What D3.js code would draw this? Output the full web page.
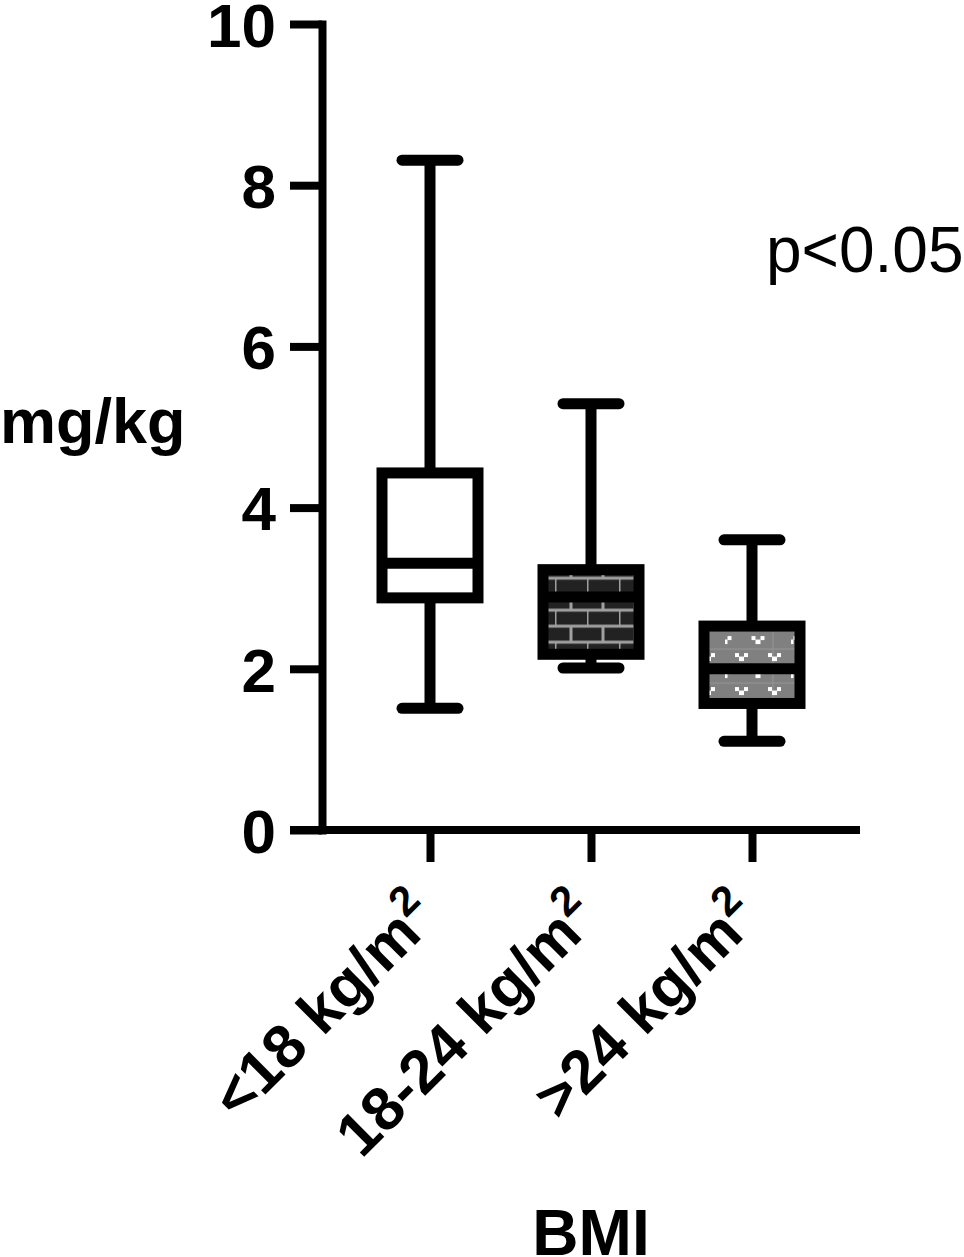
<!DOCTYPE html>
<html>
<head>
<meta charset="utf-8">
<script src="https://cdn.jsdelivr.net/npm/d3@7"></script>
<style>
  html, body { margin: 0; padding: 0; background: #fff; }
  svg { display: block; font-family: "Liberation Sans", Arial, Helvetica, sans-serif; }
</style>
</head>
<body>
<div id="chart"></div>
<script>
// BMI groups vs mg/kg box plot
const categories = ["<18", "18-24", ">24"];
const categoryLabels = ["<18 kg/m", "18-24 kg/m", ">24 kg/m"];
const whiskerHigh = [8.31, 5.29, 3.6];
const q3 = [4.43, 3.23, 2.53];
const median = [3.31, 2.89, 2.0];
const q1 = [2.88, 2.18, 1.57];
const whiskerLow = [1.51, 2.01, 1.1];
const fills = ["#ffffff", "url(#brick)", "url(#dots)"];
const yTicks = [0, 2, 4, 6, 8, 10];

const W = 964;
const H = 1257;
const AXIS_X = 322;
const AXIS_Y = 830;
const TOP = 24;
const STROKE = 11;
const BOX_HALF = 48;
const CAP_HALF = 28;

const boxes = categories.map((c, i) => ({
  key: c,
  label: categoryLabels[i],
  hi: whiskerHigh[i],
  q3: q3[i],
  med: median[i],
  q1: q1[i],
  lo: whiskerLow[i],
  fill: fills[i],
}));

const svg = d3
  .select("#chart")
  .append("svg")
  .attr("width", W)
  .attr("height", H)
  .attr("viewBox", `0 0 ${W} ${H}`);

const x = d3.scalePoint().domain(categories).range([430, 752]);
const y = d3.scaleLinear().domain([0, 10]).range([AXIS_Y, TOP]);

// fill patterns
const defs = svg.append("defs");

const brick = defs
  .append("pattern")
  .attr("id", "brick")
  .attr("patternUnits", "userSpaceOnUse")
  .attr("x", x(categories[1]) - 19)
  .attr("y", y(q3[1]) + 8.5)
  .attr("width", 32)
  .attr("height", 32);
brick.append("rect").attr("width", 32).attr("height", 32).attr("fill", "#222222");
brick
  .append("path")
  .attr("d", "M0,0H32M0,16H32M0,0V16M16,16V32M0,32H32")
  .attr("stroke", "#a0a0a0")
  .attr("stroke-width", 3)
  .attr("fill", "none");

const dots = defs
  .append("pattern")
  .attr("id", "dots")
  .attr("patternUnits", "userSpaceOnUse")
  .attr("x", x(categories[2]) - 53)
  .attr("y", y(q3[2]) + 10)
  .attr("width", 66)
  .attr("height", 34);
dots.append("rect").attr("width", 66).attr("height", 34).attr("fill", "#808080");
dots
  .append("line")
  .attr("x1", 48)
  .attr("x2", 48)
  .attr("y1", 0)
  .attr("y2", 34)
  .attr("stroke", "#969696")
  .attr("stroke-width", 1);
dots
  .append("line")
  .attr("x1", 0)
  .attr("x2", 66)
  .attr("y1", 13)
  .attr("y2", 13)
  .attr("stroke", "#969696")
  .attr("stroke-width", 1);
[[0, 0], [33, 0], [16.5, 17], [49.5, 17]].forEach(([dx, dy]) => {
  const v = dots.append("g").attr("transform", `translate(${dx},${dy})`).attr("fill", "#ffffff");
  v.append("rect").attr("x", -6.5).attr("y", 0).attr("width", 4).attr("height", 4);
  v.append("rect").attr("x", 2.5).attr("y", 0).attr("width", 4).attr("height", 4);
  v.append("rect").attr("x", -2.5).attr("y", 3.5).attr("width", 5).attr("height", 4.5);
});

// y axis
const yAxis = svg
  .append("g")
  .attr("transform", `translate(${AXIS_X},0)`)
  .call(d3.axisLeft(y).tickValues(yTicks).tickSize(32).tickSizeOuter(0).tickPadding(14).tickFormat(d3.format("d")));
yAxis.select(".domain").attr("stroke", "#000").attr("stroke-width", 8).attr("stroke-linecap", "square");
yAxis.selectAll(".tick line").attr("stroke", "#000").attr("stroke-width", 8);
yAxis
  .selectAll(".tick text")
  .attr("fill", "#000")
  .attr("font-size", 62)
  .attr("font-weight", "bold")
  .attr("font-family", "'Liberation Sans', Arial, sans-serif")
  .attr("dy", "0.36em");

// x axis
const xAxis = svg
  .append("g")
  .attr("transform", `translate(0,${AXIS_Y})`)
  .call(d3.axisBottom(x).tickSize(32).tickFormat(""));
xAxis.select(".domain").remove();
xAxis.selectAll(".tick line").attr("stroke", "#000").attr("stroke-width", 8);
svg
  .append("line")
  .attr("x1", AXIS_X - 32)
  .attr("x2", 860)
  .attr("y1", AXIS_Y)
  .attr("y2", AXIS_Y)
  .attr("stroke", "#000")
  .attr("stroke-width", 8);

// boxes
const g = svg.append("g").attr("class", "boxes");
const box = g
  .selectAll("g")
  .data(boxes)
  .join("g")
  .attr("transform", (d) => `translate(${x(d.key)},0)`);

box
  .append("line")
  .attr("y1", (d) => y(d.hi))
  .attr("y2", (d) => y(d.q3))
  .attr("stroke", "#000")
  .attr("stroke-width", STROKE);
box
  .append("line")
  .attr("y1", (d) => y(d.q1))
  .attr("y2", (d) => y(d.lo))
  .attr("stroke", "#000")
  .attr("stroke-width", STROKE);
box
  .selectAll("line.cap")
  .data((d) => [d.hi, d.lo])
  .join("line")
  .attr("class", "cap")
  .attr("x1", -CAP_HALF)
  .attr("x2", CAP_HALF)
  .attr("y1", (v) => y(v))
  .attr("y2", (v) => y(v))
  .attr("stroke", "#000")
  .attr("stroke-width", STROKE)
  .attr("stroke-linecap", "round");
box
  .append("rect")
  .attr("x", -BOX_HALF)
  .attr("width", BOX_HALF * 2)
  .attr("y", (d) => y(d.q3))
  .attr("height", (d) => y(d.q1) - y(d.q3))
  .attr("fill", (d) => d.fill)
  .attr("stroke", "#000")
  .attr("stroke-width", STROKE);
box
  .append("line")
  .attr("x1", -BOX_HALF)
  .attr("x2", BOX_HALF)
  .attr("y1", (d) => y(d.med))
  .attr("y2", (d) => y(d.med))
  .attr("stroke", "#000")
  .attr("stroke-width", STROKE);

// rotated category labels
const labels = svg
  .append("g")
  .selectAll("text")
  .data(boxes)
  .join("text")
  .attr("transform", (d) => `translate(${x(d.key) + 10},${AXIS_Y + 90}) rotate(-45)`)
  .attr("text-anchor", "end")
  .attr("font-size", 61)
  .attr("font-weight", "bold")
  .attr("fill", "#000");
labels.append("tspan").text((d) => d.label);
labels
  .append("tspan")
  .attr("font-size", 42)
  .attr("dy", "-0.6em")
  .text("2");

// titles
svg
  .append("text")
  .attr("x", 0)
  .attr("y", 443)
  .attr("font-size", 63)
  .attr("font-weight", "bold")
  .text("mg/kg");

svg
  .append("text")
  .attr("x", x(categories[1]))
  .attr("y", 1255)
  .attr("text-anchor", "middle")
  .attr("font-size", 64)
  .attr("font-weight", "bold")
  .text("BMI");

svg
  .append("text")
  .attr("x", 766)
  .attr("y", 272)
  .attr("font-size", 64)
  .text("p<0.05");
</script>
</body>
</html>
